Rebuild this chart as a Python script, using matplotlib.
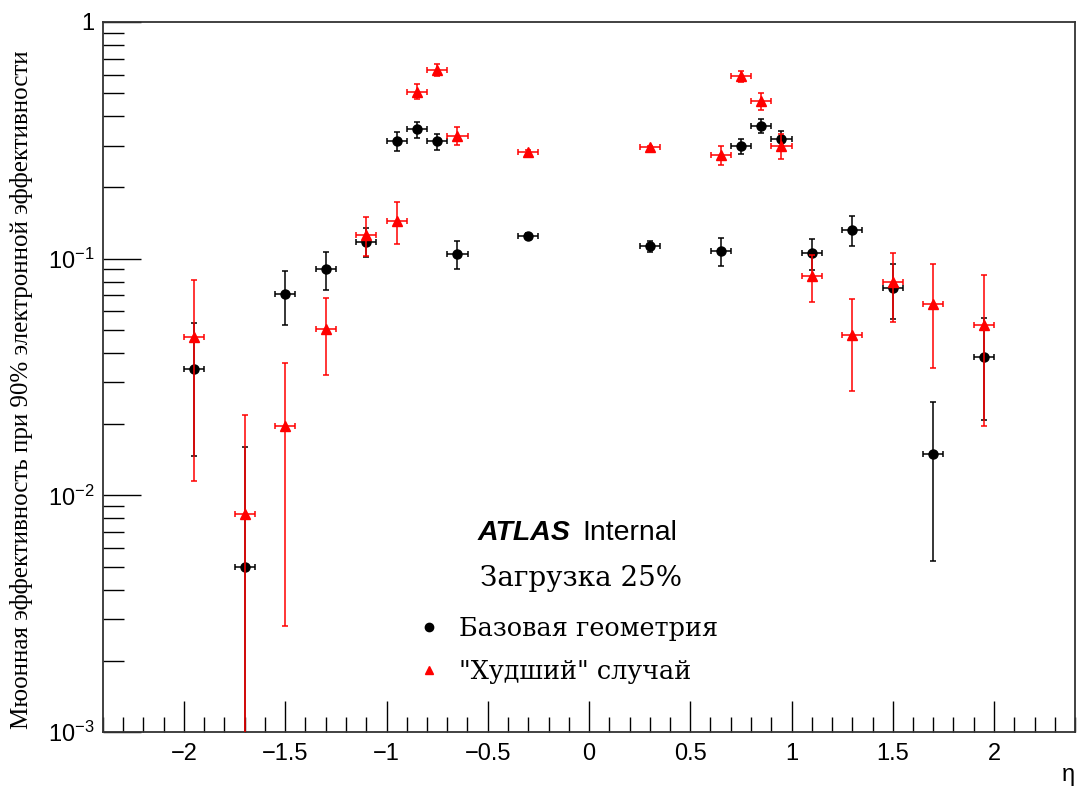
import numpy as np
import matplotlib
matplotlib.use("Agg")
import matplotlib.pyplot as plt
from matplotlib.lines import Line2D
from matplotlib.ticker import FixedLocator, FixedFormatter, MultipleLocator

# ---- data ----
eta = [-1.95, -1.7, -1.5, -1.3, -1.1, -0.95, -0.85, -0.75, -0.65, -0.3,
       0.3, 0.65, 0.75, 0.85, 0.95, 1.1, 1.3, 1.5, 1.7, 1.95]
eta_err = [0.05] * 20

base_eff = [0.0341, 0.0050, 0.0707, 0.0904, 0.118, 0.314, 0.352, 0.313, 0.1043, 0.1248,
            0.1127, 0.108, 0.299, 0.3647, 0.3195, 0.1054, 0.132, 0.075, 0.0150, 0.0386]
base_err = [0.0195, 0.011, 0.0180, 0.0165, 0.0165, 0.029, 0.027, 0.024, 0.0140, 0.003,
            0.0055, 0.0145, 0.021, 0.025, 0.027, 0.0162, 0.019, 0.0195, 0.0097, 0.0177]

worst_eff = [0.0465, 0.00837, 0.0196, 0.0503, 0.126, 0.1443, 0.5076, 0.6287, 0.331, 0.282,
             0.2955, 0.274, 0.591, 0.4624, 0.300, 0.0845, 0.0475, 0.0797, 0.0645, 0.0526]
worst_err = [0.035, 0.0134, 0.0168, 0.018, 0.0235, 0.0287, 0.037, 0.037, 0.030, 0.005,
             0.005, 0.026, 0.031, 0.038, 0.037, 0.019, 0.0198, 0.0255, 0.030, 0.033]

ytick_vals = [1e-3, 1e-2, 1e-1, 1]
ytick_labels = [r'$\mathregular{10^{-3}}$', r'$\mathregular{10^{-2}}$',
                r'$\mathregular{10^{-1}}$', '1']
xtick_vals = [-2, -1.5, -1, -0.5, 0, 0.5, 1, 1.5, 2]
xtick_labels = ['−2', '−1.5', '−1', '−0.5', '0', '0.5', '1', '1.5', '2']

ylabel = "Мюонная эффективность при 90% электронной эффективности"
label_base = "Базовая геометрия"
label_worst = '"Худший" случай'

plt.rcParams['font.family'] = ['Liberation Sans', 'DejaVu Sans']
plt.rcParams['mathtext.default'] = 'regular'

W, H = 1077, 787
fig = plt.figure(figsize=(W / 100, H / 100), dpi=100)
ax = fig.add_axes([103 / W, 1 - 732 / H, (1075 - 103) / W, (732 - 22) / H])


def lower_err(vals, errs):
    return [e if v - e > 0 else v - 1e-4 for v, e in zip(vals, errs)]


ax.errorbar(eta, base_eff, xerr=eta_err,
            yerr=[lower_err(base_eff, base_err), base_err],
            fmt='o', color='black', ms=6.5, elinewidth=1.1, capsize=2.5,
            capthick=1.1, zorder=3)
ax.errorbar(eta, worst_eff, xerr=eta_err,
            yerr=[lower_err(worst_eff, worst_err), worst_err],
            fmt='^', color='#ff0000', ms=6.5, elinewidth=1.1, capsize=2.5,
            capthick=1.1, zorder=4)

ax.set_yscale('log')
ax.set_ylim(1e-3, 1)
ax.set_xlim(-2.4, 2.4)

ax.yaxis.set_major_locator(FixedLocator(ytick_vals))
ax.yaxis.set_major_formatter(FixedFormatter(ytick_labels))
ax.xaxis.set_major_locator(FixedLocator(xtick_vals))
ax.xaxis.set_major_formatter(FixedFormatter(xtick_labels))
ax.xaxis.set_minor_locator(MultipleLocator(0.1))

ax.tick_params(axis='both', which='both', direction='in', top=False, right=False)
ax.tick_params(axis='x', which='major', length=22, width=1, labelsize=17, pad=8)
ax.tick_params(axis='x', which='minor', length=11, width=1)
ax.tick_params(axis='y', which='major', length=27, width=1, labelsize=17, pad=6)
ax.tick_params(axis='y', which='minor', length=15, width=1, labelleft=False)

for s in ax.spines.values():
    s.set_linewidth(1.3)
    s.set_color('#333333')

fig.text(22 / W, 1 - 390 / H, ylabel, rotation=90, ha='center', va='center',
         family='Liberation Serif', fontsize=18)
fig.text(1068 / W, 1 - 775 / H, 'η', ha='center', va='center', fontsize=17)

fig.text(478 / W, 1 - 533 / H, 'ATLAS', fontsize=20.5, fontweight='bold',
         fontstyle='italic', ha='left', va='center')
fig.text(582 / W, 1 - 533 / H, 'Internal', fontsize=20.5, ha='left', va='center')
fig.text(480 / W, 1 - 578 / H, 'Загрузка 25%', fontsize=20,
         family='DejaVu Serif', ha='left', va='center')

handles = [Line2D([], [], marker='o', color='black', ls='none', ms=6),
           Line2D([], [], marker='^', color='#ff0000', ls='none', ms=6)]
ax.legend(handles, [label_base, label_worst], loc='center left',
          bbox_to_anchor=(416 / W, 1 - 650 / H), bbox_transform=fig.transFigure,
          frameon=False, prop={'family': 'DejaVu Serif', 'size': 18.4},
          handlelength=1.0, handletextpad=0.7, labelspacing=0.72,
          borderpad=0, borderaxespad=0)

fig.savefig('out.png', dpi=100)
